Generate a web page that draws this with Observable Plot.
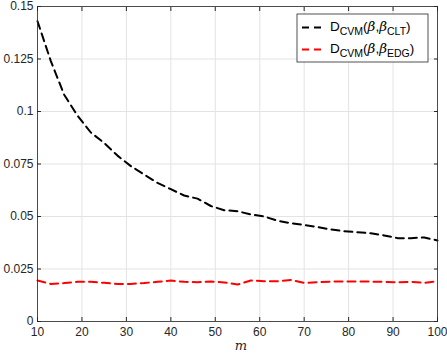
<!DOCTYPE html>
<html><head>
<meta charset="utf-8">
<script src="https://cdn.jsdelivr.net/npm/d3@7"></script>
<script src="https://cdn.jsdelivr.net/npm/@observablehq/plot@0.6"></script>
<style>
body{margin:0;background:#fff;}
#chart svg{font-family:"Liberation Sans",Arial,Helvetica,sans-serif;}
</style>
</head><body><div id="chart"></div>
<script>
const mValues = [10,13,16,19,22,25,28,31,34,37,40,43,46,49,52,55,58,61,64,67,70,73,76,79,82,85,88,91,94,97,100];
const dCLT = [0.143,0.124,0.108,0.098,0.090,0.085,0.079,0.074,0.070,0.066,0.063,0.060,0.0585,0.055,0.053,0.0525,0.051,0.050,0.048,0.0468,0.046,0.045,0.0438,0.043,0.0425,0.042,0.041,0.0397,0.0397,0.040,0.0386];
const dEDG = [0.0195,0.0179,0.0183,0.0189,0.0189,0.0184,0.0179,0.0179,0.0183,0.0189,0.0195,0.0189,0.0187,0.0190,0.0186,0.0176,0.0195,0.0192,0.0192,0.0198,0.0184,0.0187,0.0190,0.0190,0.0190,0.0190,0.0189,0.0187,0.0189,0.0184,0.0192];
const seriesKeys = ["CLT","EDG"];
const seriesColors = ["#000000","#ff0000"];
const xTicks = [10,20,30,40,50,60,70,80,90,100];
const yTicks = [0,0.025,0.05,0.075,0.1,0.125,0.15];
const xLabel = "m";

const data = mValues.flatMap((m,i)=>[
  {m, d:dCLT[i], s:"CLT"},
  {m, d:dEDG[i], s:"EDG"}
]);

const axisColor = "#262626";
const chart = Plot.plot({
  width:447, height:355,
  marginLeft:37, marginRight:10, marginTop:6, marginBottom:34,
  style:{fontFamily:"'Liberation Sans',Arial,sans-serif", fontSize:"11px", color:axisColor, background:"#fff"},
  x:{domain:[10,100]},
  y:{domain:[0,0.15]},
  color:{domain:seriesKeys, range:seriesColors},
  marks:[
    Plot.gridX(xTicks,{stroke:"#e3e3e3", strokeOpacity:1, strokeWidth:1}),
    Plot.gridY(yTicks,{stroke:"#e3e3e3", strokeOpacity:1, strokeWidth:1}),
    Plot.line(data,{x:"m", y:"d", stroke:"s", z:"s", strokeWidth:2, strokeDasharray:"8,5", curve:"linear"}),
    Plot.frame({stroke:axisColor, strokeWidth:0.8}),
    Plot.axisX(xTicks,{anchor:"bottom", tickSize:-4, tickPadding:10, tickFormat:d=>String(d), label:null, fontSize:12}),
    Plot.axisX(xTicks,{anchor:"top", tickSize:-4, text:null, label:null}),
    Plot.axisY(yTicks,{anchor:"left", tickSize:-4, tickPadding:8, tickFormat:d=>String(d), label:null, fontSize:12}),
    Plot.axisY(yTicks,{anchor:"right", tickSize:-4, text:null, label:null})
  ]
});
document.getElementById("chart").appendChild(chart);

const serif = "'DejaVu Serif','Liberation Serif',serif";
const svg = d3.select(chart);
// x label
svg.append("text").attr("x",241).attr("y",350).attr("text-anchor","middle")
  .attr("font-family",serif).attr("font-style","italic")
  .attr("font-size",13).attr("fill",axisColor).text(xLabel);

// legend
const lg = svg.append("g").attr("text-anchor","start");
lg.append("rect").attr("x",297).attr("y",14).attr("width",131).attr("height",48)
  .attr("fill","#fff").attr("stroke",axisColor).attr("stroke-width",0.8);
seriesKeys.forEach((k,i)=>{
  const cy = 27.5 + i*22;
  lg.append("line").attr("x1",302).attr("x2",323).attr("y1",cy).attr("y2",cy)
    .attr("stroke",seriesColors[i]).attr("stroke-width",2).attr("stroke-dasharray","7,5");
  const t = lg.append("text").attr("x",330).attr("y",cy+3.5).attr("font-size",13.5)
    .attr("fill","#000").attr("text-anchor","start");
  t.append("tspan").text("D");
  t.append("tspan").attr("font-size",10.5).attr("dy",4).text("CVM");
  t.append("tspan").attr("dy",-4).text("(");
  t.append("tspan").attr("font-family",serif).attr("font-style","italic").text("β");
  t.append("tspan").text(",");
  t.append("tspan").attr("font-family",serif).attr("font-style","italic").text("β");
  t.append("tspan").attr("font-size",10.5).attr("dy",4).text(k);
  t.append("tspan").attr("dy",-4).text(")");
});
</script>
</body></html>
